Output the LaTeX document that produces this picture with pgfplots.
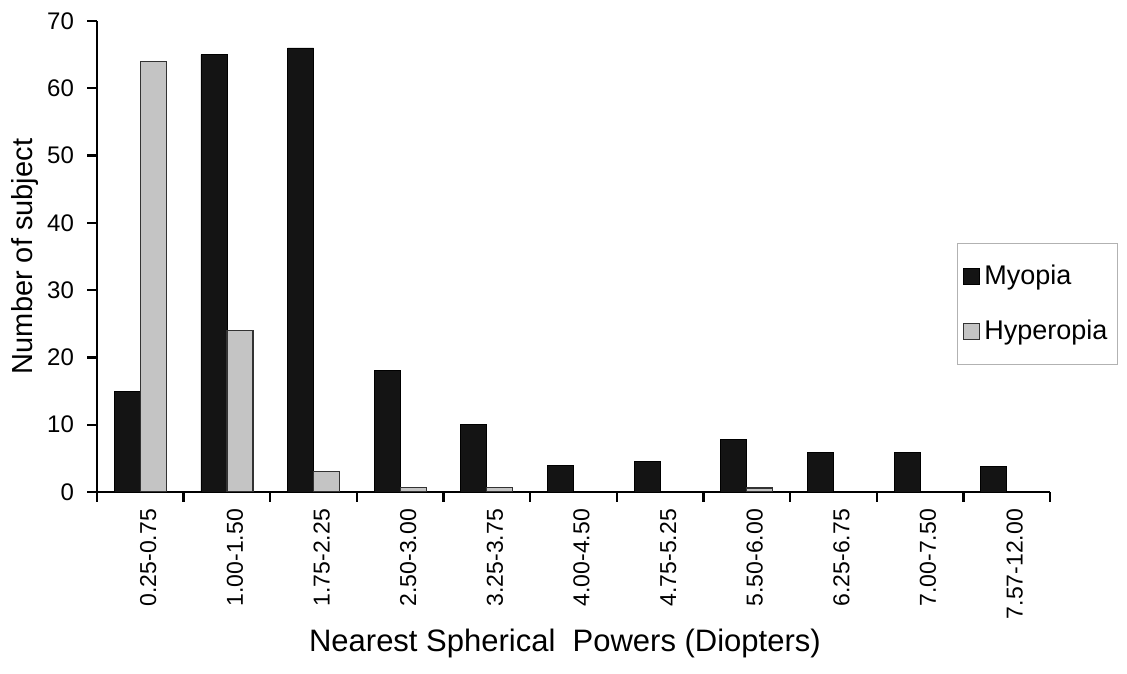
\documentclass[border=0pt]{standalone}
\usepackage{fontspec}
\setmainfont{Liberation Sans}
\usepackage{pgfplots}
\pgfplotsset{compat=1.18}
\definecolor{hyper}{RGB}{196,196,196}
\definecolor{myo}{RGB}{20,20,20}
\begin{document}
\begin{tikzpicture}
\useasboundingbox (0,0) rectangle (563.5pt,336.5pt);
\begin{axis}[
  at={(48.5pt,90.5pt)}, anchor=south west,
  width=476.5pt, height=235.5pt, scale only axis,
  ybar=0pt, bar width=13pt,
  xmin=-0.5, xmax=10.5, ymin=0, ymax=70,
  axis lines=left,
  axis line style={-, line width=1.2pt, black},
  tick align=outside,
  xtick={0,...,10},
  xticklabels={0.25-0.75,1.00-1.50,1.75-2.25,2.50-3.00,3.25-3.75,4.00-4.50,4.75-5.25,5.50-6.00,6.25-6.75,7.00-7.50,7.57-12.00},
  major x tick style={draw=none},
  minor xtick={-0.5,0.5,1.5,2.5,3.5,4.5,5.5,6.5,7.5,8.5,9.5,10.5},
  minor x tick style={line width=1.2pt, black},
  minor tick length=5pt,
  ytick={0,10,...,70},
  major y tick style={line width=1.2pt, black},
  major tick length=5pt,
  /pgf/number format/assume math mode=true,
  xticklabel style={rotate=90, anchor=east, font=\fontsize{11.5}{13}\selectfont, yshift=-4pt},
  yticklabel style={font=\fontsize{12}{14}\selectfont, xshift=-3pt},
  xlabel={Nearest Spherical\ \ Powers (Diopters)},
  xlabel style={at={(axis description cs:0.491,-0.322)}, anchor=center, font=\fontsize{15.5}{18}\selectfont},
  ylabel={Number of subject},
  ylabel style={at={(axis description cs:-0.076,0.5)}, anchor=center, font=\fontsize{14.5}{17}\selectfont},
  legend style={at={(axis description cs:0.902,0.529)}, anchor=north west,
    draw=gray!60, line width=0.5pt, font=\fontsize{13.5}{15}\selectfont,
    row sep=12pt, inner xsep=3pt, inner ysep=9pt},
  legend cell align=left,
]
\addplot[fill=myo, draw=black, line width=0.4pt,
  legend image code/.code={\draw[fill=myo,draw=black,line width=0.6pt] (0pt,-4pt) rectangle (8pt,4pt);}]
  coordinates {(0,15) (1,65) (2,66) (3,18) (4,10) (5,4) (6,4.6) (7,7.8) (8,5.9) (9,5.9) (10,3.8)};
\addplot[fill=hyper, draw=black!80, line width=0.6pt,
  legend image code/.code={\draw[fill=hyper,draw=black!80,line width=0.6pt] (0pt,-4pt) rectangle (8pt,4pt);}]
  coordinates {(0,64) (1,24) (2,3) (3,0.7) (4,0.7) (7,0.6)};
\legend{Myopia,Hyperopia}
\end{axis}
\end{tikzpicture}
\end{document}
